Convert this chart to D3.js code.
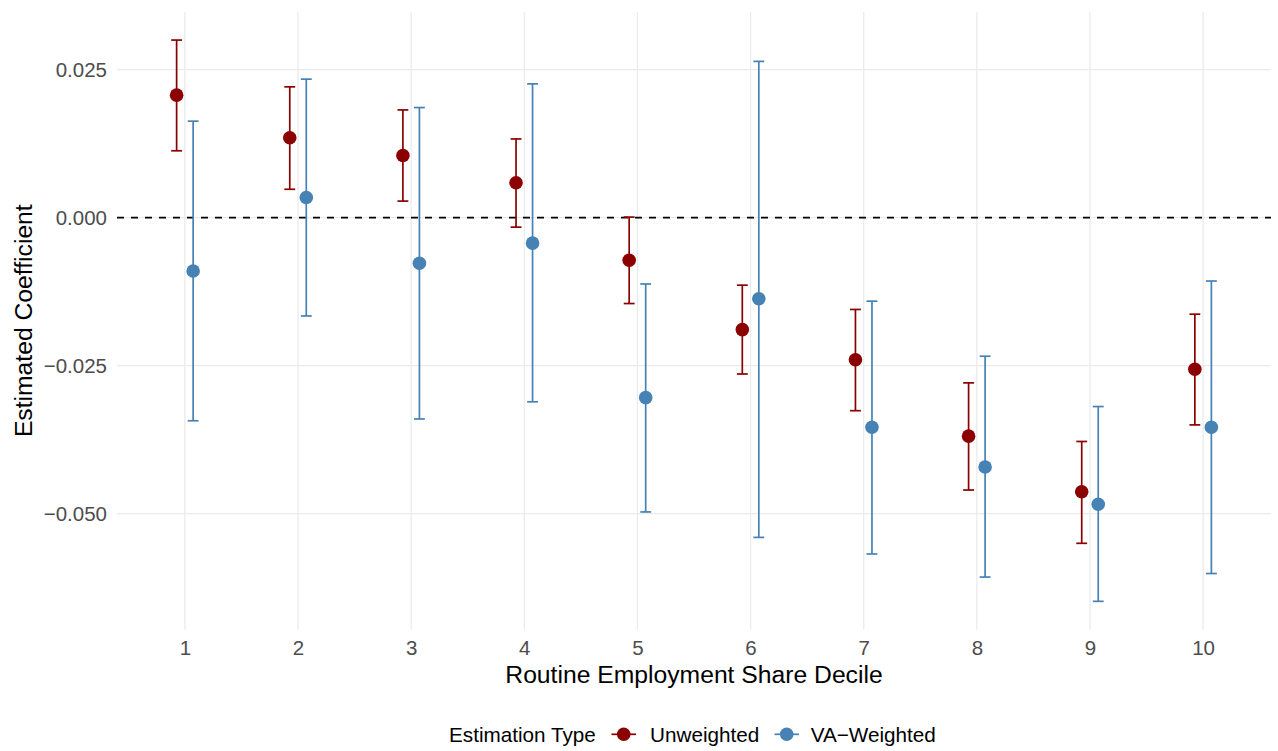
<!DOCTYPE html>
<html>
<head>
<meta charset="utf-8">
<script src="https://cdn.jsdelivr.net/npm/d3@7"></script>
<style>
  html, body { margin: 0; padding: 0; background: #ffffff; }
  svg { display: block; font-family: "Liberation Sans", Arial, Helvetica, sans-serif; }
</style>
</head>
<body>
<svg id="chart" width="1278" height="751"></svg>
<script>
// ---- data ----
const deciles = [1, 2, 3, 4, 5, 6, 7, 8, 9, 10];
const seriesNames = ["Unweighted", "VA\u2212Weighted"];
const seriesColors = ["#8B0000", "#4682B4"];
const unweightedEst = [0.0207, 0.0135, 0.0105, 0.0059, -0.0072, -0.0189, -0.0240, -0.0369, -0.0463, -0.0256];
const unweightedLo  = [0.0113, 0.0048, 0.0028, -0.0016, -0.0145, -0.0264, -0.0326, -0.0460, -0.0550, -0.0350];
const unweightedHi  = [0.0300, 0.0221, 0.0182, 0.0133, 0.0001, -0.0114, -0.0155, -0.0279, -0.0378, -0.0163];
const vaEst = [-0.0090, 0.0034, -0.0077, -0.0043, -0.0304, -0.0137, -0.0354, -0.0421, -0.0484, -0.0354];
const vaLo  = [-0.0343, -0.0166, -0.0340, -0.0311, -0.0497, -0.0540, -0.0568, -0.0607, -0.0648, -0.0601];
const vaHi  = [0.0163, 0.0234, 0.0186, 0.0226, -0.0112, 0.0264, -0.0141, -0.0234, -0.0319, -0.0107];
const yTicks = [-0.05, -0.025, 0, 0.025];
const xTitle = "Routine Employment Share Decile";
const yTitle = "Estimated Coefficient";
const legendTitle = "Estimation Type";

// ---- build rows ----
const series = [
  { name: seriesNames[0], color: seriesColors[0], dodge: -1, est: unweightedEst, lo: unweightedLo, hi: unweightedHi },
  { name: seriesNames[1], color: seriesColors[1], dodge: 1, est: vaEst, lo: vaLo, hi: vaHi }
];
const rows = [];
series.forEach(s => deciles.forEach((d, i) => rows.push({ d, s, est: s.est[i], lo: s.lo[i], hi: s.hi[i] })));

// ---- layout ----
const panel = { left: 117, right: 1271, top: 12.0, bottom: 629.4 };
const svg = d3.select("#chart");
const FONT = "Liberation Sans, Arial, sans-serif";

const allLo = d3.min(rows, r => r.lo), allHi = d3.max(rows, r => r.hi);
const pad = (allHi - allLo) * 0.05;
const y = d3.scaleLinear().domain([allLo - pad, allHi + pad]).range([panel.bottom, panel.top]);
const x = d3.scaleLinear().domain([0.4, 10.6]).range([panel.left, panel.right]);
const dodgeOff = 0.073, capHalf = 0.048;

// gridlines
const grid = svg.append("g");
grid.selectAll("line.h").data(yTicks).join("line")
  .attr("x1", panel.left).attr("x2", panel.right)
  .attr("y1", d => y(d)).attr("y2", d => y(d))
  .attr("stroke", "#ebebeb").attr("stroke-width", 1.3);
grid.selectAll("line.v").data(deciles).join("line")
  .attr("x1", d => x(d)).attr("x2", d => x(d))
  .attr("y1", panel.top).attr("y2", panel.bottom)
  .attr("stroke", "#ebebeb").attr("stroke-width", 1.3);

// axes (text only, using d3 axes)
const fmt = v => (v < 0 ? "\u2212" : "") + d3.format(".3f")(Math.abs(v));
const yAxis = svg.append("g").attr("transform", `translate(${panel.left},0)`)
  .call(d3.axisLeft(y).tickValues(yTicks).tickFormat(fmt).tickSize(0).tickPadding(10));
yAxis.select(".domain").remove();
yAxis.selectAll("text").attr("fill", "#4d4d4d").attr("font-size", 20.5).attr("font-family", FONT);

const xAxis = svg.append("g").attr("transform", `translate(0,${panel.bottom})`)
  .call(d3.axisBottom(x).tickValues(deciles).tickFormat(d3.format("d")).tickSize(0).tickPadding(11));
xAxis.select(".domain").remove();
xAxis.selectAll("text").attr("fill", "#4d4d4d").attr("font-size", 20.5).attr("font-family", FONT);

// zero line
svg.append("line")
  .attr("x1", panel.left).attr("x2", panel.right)
  .attr("y1", y(0)).attr("y2", y(0))
  .attr("stroke", "#000").attr("stroke-width", 1.7).attr("stroke-dasharray", "7,7");

// error bars
const eb = svg.append("g");
rows.forEach(r => {
  const cx = r.d + r.s.dodge * dodgeOff;
  const g = eb.append("g").attr("stroke", r.s.color).attr("stroke-width", 1.7);
  g.append("line").attr("x1", x(cx)).attr("x2", x(cx)).attr("y1", y(r.lo)).attr("y2", y(r.hi));
  g.append("line").attr("x1", x(cx - capHalf)).attr("x2", x(cx + capHalf)).attr("y1", y(r.lo)).attr("y2", y(r.lo));
  g.append("line").attr("x1", x(cx - capHalf)).attr("x2", x(cx + capHalf)).attr("y1", y(r.hi)).attr("y2", y(r.hi));
});

// points
svg.append("g").selectAll("circle").data(rows).join("circle")
  .attr("cx", r => x(r.d + r.s.dodge * dodgeOff))
  .attr("cy", r => y(r.est))
  .attr("r", 6.8)
  .attr("fill", r => r.s.color);

// axis titles
svg.append("text").attr("x", (panel.left + panel.right) / 2).attr("y", 683)
  .attr("text-anchor", "middle").attr("font-size", 24.7).attr("fill", "#000").attr("font-family", FONT).text(xTitle);
svg.append("text").attr("transform", `translate(32,${(panel.top + panel.bottom) / 2}) rotate(-90)`)
  .attr("text-anchor", "middle").attr("font-size", 24.7).attr("fill", "#000").attr("font-family", FONT).text(yTitle);

// legend
const leg = svg.append("g");
const legY = 734.3;
leg.append("text").attr("x", 449).attr("y", legY + 7.6).attr("font-size", 20.7).attr("fill", "#000")
  .attr("font-family", FONT).text(legendTitle);
const keyX = [611.5, 774.5];
const labX = [650, 810.7];
series.forEach((s, i) => {
  leg.append("line").attr("x1", keyX[i]).attr("x2", keyX[i] + 24.5).attr("y1", legY).attr("y2", legY)
    .attr("stroke", s.color).attr("stroke-width", 1.7);
  leg.append("circle").attr("cx", keyX[i] + 12.2).attr("cy", legY).attr("r", 6.8).attr("fill", s.color);
  leg.append("text").attr("x", labX[i]).attr("y", legY + 7.6).attr("font-size", 20.7).attr("fill", "#000")
    .attr("font-family", FONT).text(s.name);
});
</script>
</body>
</html>
